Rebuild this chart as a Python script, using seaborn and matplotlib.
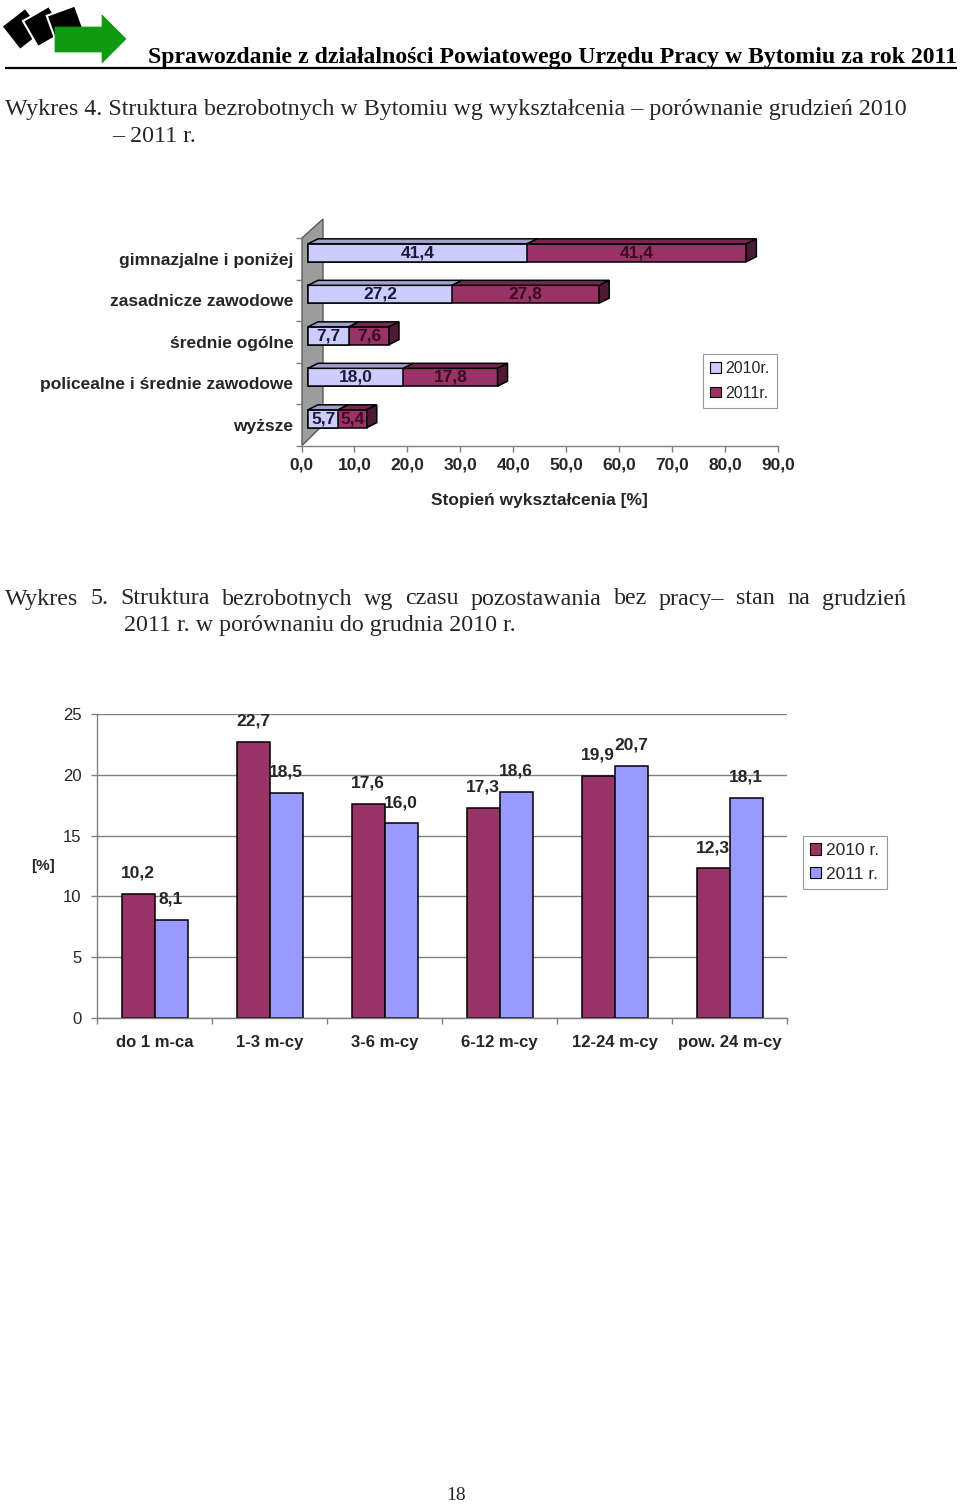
import matplotlib
matplotlib.use("Agg")
import numpy as np
import pandas as pd
import matplotlib.pyplot as plt
import seaborn as sns
from matplotlib.patches import Polygon, Patch
from matplotlib.transforms import ScaledTranslation

# ---------------- data ----------------
edu_categories = ["gimnazjalne i poniżej", "zasadnicze zawodowe", "średnie ogólne",
                  "policealne i średnie zawodowe", "wyższe"]
edu_2010 = [41.4, 27.2, 7.7, 18.0, 5.7]
edu_2011 = [41.4, 27.8, 7.6, 17.8, 5.4]
edu_series = ["2010r.", "2011r."]
edu_xticks = [0, 10, 20, 30, 40, 50, 60, 70, 80, 90]

dur_categories = ["do 1 m-ca", "1-3 m-cy", "3-6 m-cy", "6-12 m-cy", "12-24 m-cy", "pow. 24 m-cy"]
dur_2010 = [10.2, 22.7, 17.6, 17.3, 19.9, 12.3]
dur_2011 = [8.1, 18.5, 16.0, 18.6, 20.7, 18.1]
dur_series = ["2010 r.", "2011 r."]
dur_yticks = [0, 5, 10, 15, 20, 25]

header_text = "Sprawozdanie z działalności Powiatowego Urzędu Pracy w Bytomiu za rok 2011"
cap4_line1 = "Wykres 4. Struktura bezrobotnych w Bytomiu wg wykształcenia – porównanie grudzień 2010"
cap4_line2 = "– 2011 r."
cap5_line1 = "Wykres 5. Struktura bezrobotnych wg czasu pozostawania bez pracy– stan na grudzień"
cap5_line2 = "2011 r. w porównaniu do grudnia 2010 r."
page_number = "18"

# ---------------- style ----------------
LAV = "#CCCCFF"
LAV_TOP = "#A0A0CC"
MAROON = "#993366"
MAR_TOP = "#732650"
MAR_SIDE = "#4D1A33"
BLUE = "#9999FF"
GRAY = "#808080"
FS = 12.5

sns.set_theme(style="white")
plt.rcParams["font.family"] = ["Liberation Sans", "DejaVu Sans"]
SERIF = ["Liberation Serif", "DejaVu Serif"]

W, H = 960, 1507
fig = plt.figure(figsize=(W / 100, H / 100), dpi=100)
fig.patch.set_facecolor("white")

page = fig.add_axes([0, 0, 1, 1], zorder=-5)
page.set_xlim(0, W)
page.set_ylim(H, 0)
page.axis("off")


def ax_rect(l, t, r, b):
    return [l / W, 1 - b / H, (r - l) / W, (b - t) / H]


def fmt(v):
    return f"{v:.1f}".replace(".", ",")


renderer = fig.canvas.get_renderer()


def fit_width(t, target):
    w = t.get_window_extent(renderer).width
    t.set_fontsize(t.get_fontsize() * target / w)


def card(x, y, s, deg):
    th = np.radians(deg)
    c, sn = np.cos(th), np.sin(th)
    bl = (x, y)
    br = (x + s * c, y - s * sn)
    tl = (x - s * sn, y - s * c)
    tr = (br[0] - s * sn, br[1] - s * c)
    return [bl, br, tr, tl]


# ---------------- logo & header ----------------
for cx, cy, ang in [(20, 50, 38), (38, 47, 30), (57, 44, 20)]:
    page.add_patch(Polygon(card(cx, cy, 30, ang), closed=True, fc="black", ec="white", lw=1.5))
arrow = [(55, 27), (102, 27), (102, 15), (126, 39), (102, 63), (102, 52), (55, 52)]
page.add_patch(Polygon(arrow, closed=True, fc="#119911", ec="#119911", lw=0.5))

hdr = page.text(957, 63, header_text, ha="right", va="baseline", family=SERIF,
                fontweight="bold", fontsize=16, color="black")
fit_width(hdr, 812)
page.plot([5, 957], [67.5, 67.5], color="black", lw=1.6, solid_capstyle="butt")

c4 = page.text(5, 110, cap4_line1, ha="left", va="center", family=SERIF, fontsize=16)
fit_width(c4, 901)
cap_fs = c4.get_fontsize()
page.text(112, 137, cap4_line2, ha="left", va="center", family=SERIF, fontsize=cap_fs)

# justified line
words = cap5_line1.split(" ")
wt = [page.text(0, 599, w_, ha="left", va="center", family=SERIF, fontsize=cap_fs) for w_ in words]
widths = [t.get_window_extent(renderer).width for t in wt]
gap = (901 - sum(widths)) / (len(words) - 1)
xpos = 5
for t, wd in zip(wt, widths):
    t.set_x(xpos)
    xpos += wd + gap
page.text(124, 626, cap5_line2, ha="left", va="center", family=SERIF, fontsize=cap_fs)
page.text(456, 1496, page_number, ha="center", va="center", family=SERIF, fontsize=14)

# ---------------- chart 1 (3D-like stacked bars) ----------------
X0, X1, T1, B1 = 301.5, 778, 238, 445.5
ax1 = fig.add_axes(ax_rect(X0, T1, X1, B1), zorder=1)
ax1.set_facecolor("none")
df1 = pd.DataFrame({"cat": edu_categories, "y2010": edu_2010, "y2011": edu_2011})
df1["total"] = df1["y2010"] + df1["y2011"]
BAR_H = 0.43
sns.barplot(data=df1, y="cat", x="total", orient="h", color=MAROON, saturation=1,
            width=BAR_H, edgecolor="black", linewidth=1.1, errorbar=None, ax=ax1)
sns.barplot(data=df1, y="cat", x="y2010", orient="h", color=LAV, saturation=1,
            width=BAR_H, edgecolor="black", linewidth=1.1, errorbar=None, ax=ax1)
ax1.set_xlim(0, 90)
ax1.set_ylim(4.5, -0.5)
shift = ScaledTranslation(6.5 / 100, 6 / 100, fig.dpi_scale_trans)
for p in ax1.patches:
    p.set_transform(ax1.transData + shift)
    p.set_clip_on(False)

PX_X = (X1 - X0) / 90
PX_Y = (B1 - T1) / 5
DX, DY = 10, 5
ddx, ddy = DX / PX_X, DY / PX_Y
for i, (a, b) in enumerate(zip(edu_2010, edu_2011)):
    yt, yb = i - BAR_H / 2, i + BAR_H / 2
    for x0, x1, col in [(0, a, LAV_TOP), (a, a + b, MAR_TOP)]:
        poly = [(x0, yt), (x1, yt), (x1 + ddx, yt - ddy), (x0 + ddx, yt - ddy)]
        ax1.add_patch(Polygon(poly, closed=True, fc=col, ec="black", lw=1.1,
                              transform=ax1.transData + shift, clip_on=False))
    e = a + b
    side = [(e, yt), (e + ddx, yt - ddy), (e + ddx, yb - ddy), (e, yb)]
    ax1.add_patch(Polygon(side, closed=True, fc=MAR_SIDE, ec="black", lw=1.1,
                          transform=ax1.transData + shift, clip_on=False))
    ax1.text(a / 2, i, fmt(a), ha="center", va="center", fontsize=FS, fontweight="bold",
             color="#1A1A3A", transform=ax1.transData + shift)
    ax1.text(a + b / 2, i, fmt(b), ha="center", va="center", fontsize=FS, fontweight="bold",
             color="#3B0A27", transform=ax1.transData + shift)

# back wall
page.add_patch(Polygon([(302, 445.5), (302, 238), (323, 219), (323, 425)], closed=True,
                       fc="#9C9C9C", ec="#5A5A5A", lw=1))

for s in ["top", "right", "left"]:
    ax1.spines[s].set_visible(False)
ax1.spines["bottom"].set_color(GRAY)
ax1.spines["bottom"].set_linewidth(1)

ax1.set_yticks(range(len(edu_categories)))
ax1.set_yticklabels(edu_categories, fontsize=FS, fontweight="bold")
ax1.set_yticks(np.arange(-0.5, len(edu_categories), 1), minor=True)
ax1.tick_params(axis="y", which="major", length=0, pad=6, left=False)
ax1.tick_params(axis="y", which="minor", length=4, width=1, color=GRAY, left=True, direction="out")
ax1.set_xticks(edu_xticks)
ax1.set_xticklabels([fmt(v) for v in edu_xticks], fontsize=FS, fontweight="bold")
ax1.tick_params(axis="x", which="major", length=4, width=1, color=GRAY, pad=5, bottom=True,
                direction="out")
ax1.set_ylabel("")
ax1.set_xlabel("Stopień wykształcenia [%]", fontsize=FS, fontweight="bold")
ax1.xaxis.set_label_coords(0.5, -(500 - B1) / (B1 - T1))
ax1.xaxis.label.set_va("center")

h1 = [Patch(fc=LAV, ec="black", lw=0.8), Patch(fc=MAROON, ec="black", lw=0.8)]
leg1 = ax1.legend(h1, edu_series, loc="upper left", bbox_to_anchor=(703 / W, 1 - 354 / H),
                  bbox_transform=fig.transFigure, frameon=True, fancybox=False,
                  edgecolor=GRAY, fontsize=11.5, handlelength=0.65, handleheight=0.65,
                  handletextpad=0.3, labelspacing=0.6, borderpad=0.45, borderaxespad=0)
leg1.get_frame().set_linewidth(0.8)

# ---------------- chart 2 (grouped bars) ----------------
L2, T2, R2, B2 = 97, 714, 787, 1018
ax2 = fig.add_axes(ax_rect(L2, T2, R2, B2), zorder=1)
df2 = pd.DataFrame({
    "cat": dur_categories * 2,
    "val": dur_2010 + dur_2011,
    "year": [dur_series[0]] * len(dur_categories) + [dur_series[1]] * len(dur_categories),
})
sns.barplot(data=df2, x="cat", y="val", hue="year", palette=[MAROON, BLUE], saturation=1,
            width=66 / 115, edgecolor="black", linewidth=1.1, errorbar=None, ax=ax2, legend=False)
ax2.set_ylim(0, 25)
ax2.set_xlim(-0.5, len(dur_categories) - 0.5)
ax2.set_axisbelow(True)
ax2.yaxis.grid(True, color=GRAY, lw=1)
ax2.xaxis.grid(False)
for s in ["top", "right"]:
    ax2.spines[s].set_visible(False)
for s in ["left", "bottom"]:
    ax2.spines[s].set_color(GRAY)
    ax2.spines[s].set_linewidth(1)

ax2.set_yticks(dur_yticks)
ax2.set_yticklabels([str(v) for v in dur_yticks], fontsize=12)
ax2.tick_params(axis="y", length=4, width=1, color=GRAY, pad=7, left=True, direction="out")
ax2.set_xticks(range(len(dur_categories)))
ax2.set_xticklabels(dur_categories, fontsize=12, fontweight="bold")
ax2.set_xticks(np.arange(-0.5, len(dur_categories), 1), minor=True)
ax2.tick_params(axis="x", which="major", length=0, pad=12, bottom=False)
ax2.tick_params(axis="x", which="minor", length=4, width=1, color=GRAY, bottom=True, direction="out")
ax2.set_xlabel("")
ax2.set_ylabel("[%]", rotation=0, fontsize=11, fontweight="bold")
ax2.yaxis.set_label_coords((43 - L2) / (R2 - L2), (B2 - 866) / (B2 - T2))
ax2.yaxis.label.set_va("center")
ax2.yaxis.label.set_ha("center")

for cont, vals in zip(ax2.containers, [dur_2010, dur_2011]):
    for bar, v in zip(cont, vals):
        ax2.annotate(fmt(v), (bar.get_x() + bar.get_width() / 2, bar.get_height()),
                     xytext=(0, 15), textcoords="offset points", ha="center", va="center",
                     fontsize=FS, fontweight="bold", annotation_clip=False)

h2 = [Patch(fc=MAROON, ec="black", lw=0.8), Patch(fc=BLUE, ec="black", lw=0.8)]
leg2 = ax2.legend(h2, dur_series, loc="upper left", bbox_to_anchor=(803 / W, 1 - 836 / H),
                  bbox_transform=fig.transFigure, frameon=True, fancybox=False,
                  edgecolor=GRAY, fontsize=12.5, handlelength=0.65, handleheight=0.65,
                  handletextpad=0.3, labelspacing=0.5, borderpad=0.4, borderaxespad=0)
leg2.get_frame().set_linewidth(0.8)

fig.savefig("out.png", dpi=100)
